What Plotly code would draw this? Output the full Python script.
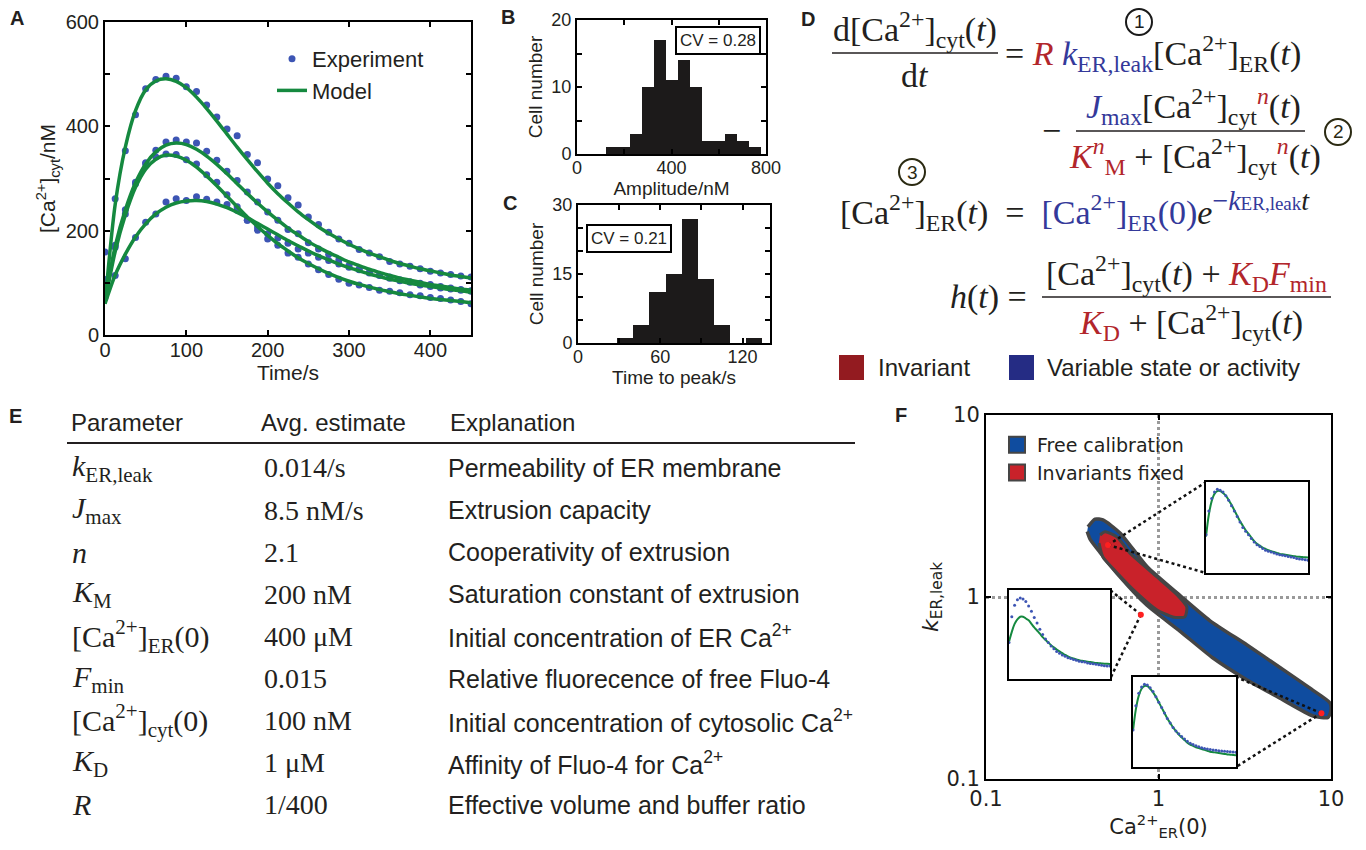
import plotly.graph_objects as go

W, H = 1366, 850
def px(x):
    return x / W
def py(y):
    return 1 - y / H

# ---------------- data ----------------
time_s = [0, 12.5, 25, 37.5, 50, 62.5, 75, 87.5, 100, 112.5, 125, 137.5, 150, 162.5, 175,
          187.5, 200, 212.5, 225, 237.5, 250, 262.5, 275, 287.5, 300, 312.5, 325, 337.5,
          350, 362.5, 375, 387.5, 400, 412.5, 425, 437.5, 450]

exp_cell1 = [159, 261, 353, 422, 472, 490, 496, 492, 476, 467, 441, 418, 395, 382, 346, 330, 299,
             286, 263, 249, 226, 212, 197, 184, 176, 164, 157, 150, 141, 136, 132, 127, 122, 119,
             116, 113, 111]
exp_cell2 = [106, 172, 240, 293, 330, 354, 370, 374, 370, 368, 352, 335, 314, 296, 274, 255, 236,
             220, 202, 194, 177, 165, 155, 144, 133, 127, 120, 114, 109, 104, 101, 96, 93, 90,
             88, 86, 84]
exp_cell3 = [106, 168, 232, 290, 328, 341, 347, 346, 336, 328, 307, 293, 269, 246, 220, 201, 184,
             172, 157, 149, 136, 125, 116, 107, 99, 96, 91, 86, 84, 81, 77, 75, 72, 70, 67, 64, 60]
exp_cell4 = [72, 114, 146, 187, 216, 232, 255, 261, 258, 265, 260, 255, 250, 239, 220, 207, 194,
             186, 176, 165, 157, 149, 143, 136, 130, 125, 119, 115, 111, 106, 102, 99, 97, 93,
             90, 87, 85]

model_cell1 = [60, 250, 360, 430, 470, 487, 491, 486, 474, 456, 434, 410, 385, 360, 336, 313, 291,
               271, 253, 236, 221, 207, 195, 184, 174, 165, 157, 150, 143, 137, 132, 127, 123,
               119, 115, 112, 109]
model_cell2 = [65, 170, 240, 292, 328, 351, 364, 368, 365, 356, 343, 327, 309, 290, 271, 253, 236,
               220, 205, 192, 179, 168, 158, 149, 140, 133, 126, 120, 114, 109, 105, 101, 97, 94,
               91, 88, 86]
model_cell3 = [62, 160, 230, 283, 318, 337, 345, 343, 335, 322, 305, 286, 266, 246, 226, 208, 191,
               175, 161, 148, 137, 127, 118, 110, 103, 97, 92, 87, 83, 79, 76, 73, 70, 68, 66, 64, 62]
model_cell4 = [60, 115, 155, 188, 213, 232, 245, 253, 257, 258, 256, 251, 244, 235, 225, 214, 203,
               192, 181, 171, 161, 152, 144, 136, 129, 123, 117, 112, 107, 103, 99, 96, 93, 90,
               87, 85, 82]

# histogram B (amplitude)
amp_bin_start = 124.6
amp_bin_width = 50.3
amp_counts = [1, 1, 3, 10, 17, 11, 14, 10, 2, 2, 3, 2, 1]
amp_cv = "CV = 0.28"

# histogram C (time to peak)
ttp_bin_start = 28.5
ttp_bin_width = 11.77
ttp_counts = [1, 4, 11, 15, 27, 14, 4, 0, 1]
ttp_cv = "CV = 0.21"

# tick labels
a_x_ticks = [0, 100, 200, 300, 400]
a_y_ticks = [0, 100, 200, 300, 400, 500, 600]
a_y_labels = ["0", "", "200", "", "400", "", "600"]
b_x_ticks = [0, 200, 400, 600, 800]
b_x_labels = ["0", "", "400", "", "800"]
b_y_ticks = [0, 5, 10, 15, 20]
b_y_labels = ["0", "", "10", "", "20"]
c_x_ticks = [0, 30, 60, 90, 120]
c_x_labels = ["0", "", "60", "", "120"]
c_y_ticks = [0, 5, 10, 15, 20, 25, 30]
c_y_labels = ["0", "", "", "15", "", "", "30"]
f_ticks = [0.1, 1, 10]
f_labels = ["0.1", "1", "10"]

# panel F: parameter regions (Ca_ER(0), k_ER,leak)
free_ca = [0.390, 0.429, 0.476, 0.598, 0.857, 1.33, 1.99, 3.26, 5.06, 7.87, 9.86, 10.0, 9.61,
           7.87, 5.06, 3.26, 2.07, 1.33, 0.857, 0.598, 0.458, 0.401, 0.386]
free_k = [2.43, 2.68, 2.65, 2.25, 1.47, 1.02, 0.74, 0.545, 0.41, 0.307, 0.262, 0.239, 0.218,
          0.222, 0.278, 0.350, 0.462, 0.650, 0.90, 1.29, 1.76, 2.08, 2.29]
fixed_ca = [0.458, 0.490, 0.574, 0.684, 0.98, 1.28, 1.46, 1.42, 1.21, 0.98, 0.75, 0.574, 0.476, 0.452]
fixed_k = [2.19, 2.28, 2.14, 1.74, 1.29, 1.03, 0.88, 0.777, 0.777, 0.849, 1.05, 1.36, 1.66, 1.98]
pick_ca = [0.51, 0.79, 8.8]
pick_k = [1.93, 0.80, 0.23]

# insets (normalised signal)
inset1_model = [0.40, 0.64, 0.79, 0.87, 0.90, 0.90, 0.88, 0.85, 0.80, 0.75, 0.69, 0.63, 0.57, 0.52,
                0.47, 0.43, 0.39, 0.35, 0.32, 0.30, 0.28, 0.265, 0.25, 0.24, 0.23, 0.22, 0.21,
                0.205, 0.20, 0.195, 0.19, 0.185, 0.18, 0.178, 0.175, 0.172, 0.17]
inset1_exp = [0.42, 0.68, 0.82, 0.89, 0.92, 0.91, 0.89, 0.85, 0.80, 0.74, 0.68, 0.62, 0.56, 0.50,
              0.46, 0.42, 0.38, 0.34, 0.31, 0.29, 0.27, 0.25, 0.24, 0.23, 0.22, 0.21, 0.20, 0.195,
              0.19, 0.18, 0.175, 0.17, 0.16, 0.155, 0.15, 0.145, 0.14]
inset2_model = [0.42, 0.53, 0.62, 0.67, 0.70, 0.70, 0.68, 0.66, 0.62, 0.58, 0.545, 0.51, 0.47,
                0.44, 0.41, 0.38, 0.355, 0.33, 0.31, 0.29, 0.27, 0.255, 0.24, 0.23, 0.22, 0.21,
                0.205, 0.20, 0.195, 0.19, 0.185, 0.18, 0.178, 0.175, 0.172, 0.17, 0.168]
inset2_exp = [0.41, 0.70, 0.83, 0.89, 0.91, 0.90, 0.87, 0.82, 0.76, 0.69, 0.63, 0.56, 0.50, 0.45,
              0.41, 0.37, 0.34, 0.31, 0.29, 0.27, 0.255, 0.24, 0.23, 0.22, 0.21, 0.20, 0.195,
              0.19, 0.18, 0.175, 0.17, 0.165, 0.16, 0.155, 0.15, 0.147, 0.145]
inset3_model = [0.40, 0.64, 0.79, 0.87, 0.90, 0.90, 0.87, 0.83, 0.78, 0.72, 0.66, 0.60, 0.54, 0.49,
                0.44, 0.40, 0.36, 0.33, 0.30, 0.27, 0.25, 0.235, 0.22, 0.21, 0.20, 0.19, 0.18,
                0.17, 0.165, 0.16, 0.155, 0.15, 0.145, 0.14, 0.137, 0.133, 0.13]
inset3_exp = [0.41, 0.68, 0.82, 0.89, 0.92, 0.91, 0.88, 0.84, 0.78, 0.72, 0.66, 0.60, 0.54, 0.49,
              0.44, 0.40, 0.37, 0.34, 0.31, 0.285, 0.265, 0.25, 0.235, 0.225, 0.215, 0.205, 0.20,
              0.195, 0.19, 0.185, 0.18, 0.177, 0.175, 0.172, 0.17, 0.167, 0.165]

# table E
table_header = ["Parameter", "Avg. estimate", "Explanation"]
table_params = ["<i>k</i><sub>ER,leak</sub>", "<i>J</i><sub>max</sub>", "<i>n</i>",
                "<i>K</i><sub>M</sub>", "[Ca<sup>2+</sup>]<sub>ER</sub>(0)", "<i>F</i><sub>min</sub>",
                "[Ca<sup>2+</sup>]<sub>cyt</sub>(0)", "<i>K</i><sub>D</sub>", "<i>R</i>"]
table_values = ["0.014/s", "8.5 nM/s", "2.1", "200 nM", "400 μM", "0.015", "100 nM", "1 μM", "1/400"]
table_explain = ["Permeability of ER membrane", "Extrusion capacity", "Cooperativity of extrusion",
                 "Saturation constant of extrusion", "Initial concentration of ER Ca<sup>2+</sup>",
                 "Relative fluorecence of free Fluo-4",
                 "Initial concentration of cytosolic Ca<sup>2+</sup>",
                 "Affinity of Fluo-4 for Ca<sup>2+</sup>", "Effective volume and buffer ratio"]

# ---------------- styles ----------------
SANS = "Liberation Sans"
SERIF = "Liberation Serif"
DJ = "DejaVu Sans"
DOT_BLUE = "#3d55b4"
GREEN = "#15893f"
EQ_RED = "#b2262b"
EQ_BLUE = "#34399a"
INK = "#231f20"
BAR = "#1c1a1a"
FREE_BLUE = "#0f4c9f"
FIX_RED = "#c9222a"
EDGE = "#454545"

fig = go.Figure()

# ---------- panel A ----------
exp_sets = [exp_cell1, exp_cell2, exp_cell3, exp_cell4]
mod_sets = [model_cell1, model_cell2, model_cell3, model_cell4]
for i, e in enumerate(exp_sets):
    fig.add_trace(go.Scatter(x=time_s, y=e, mode="markers", name="Experiment",
                             marker=dict(color=DOT_BLUE, size=7), showlegend=(i == 0),
                             legend="legend", xaxis="x", yaxis="y"))
for i, m in enumerate(mod_sets):
    fig.add_trace(go.Scatter(x=time_s, y=m, mode="lines", name="Model",
                             line=dict(color=GREEN, width=3.5, shape="spline", smoothing=0.8),
                             showlegend=(i == 0), legend="legend", xaxis="x", yaxis="y"))

# ---------- panel B ----------
amp_centers = [amp_bin_start + amp_bin_width * (i + 0.5) for i in range(len(amp_counts))]
fig.add_trace(go.Bar(x=amp_centers, y=amp_counts, width=amp_bin_width, marker=dict(color=BAR, line=dict(width=0)),
                     showlegend=False, xaxis="x2", yaxis="y2"))

# ---------- panel C ----------
ttp_centers = [ttp_bin_start + ttp_bin_width * (i + 0.5) for i in range(len(ttp_counts))]
fig.add_trace(go.Bar(x=ttp_centers, y=ttp_counts, width=ttp_bin_width, marker=dict(color=BAR, line=dict(width=0)),
                     showlegend=False, xaxis="x3", yaxis="y3"))

# ---------- panel F ----------
fig.add_trace(go.Scatter(x=free_ca, y=free_k, mode="lines", fill="toself", fillcolor=FREE_BLUE,
                         line=dict(color=EDGE, width=3.5, shape="spline", smoothing=0.6),
                         showlegend=False, xaxis="x4", yaxis="y4", hoverinfo="skip"))
fig.add_trace(go.Scatter(x=fixed_ca, y=fixed_k, mode="lines", fill="toself", fillcolor=FIX_RED,
                         line=dict(color=EDGE, width=3, shape="spline", smoothing=0.6),
                         showlegend=False, xaxis="x4", yaxis="y4", hoverinfo="skip"))
fig.add_trace(go.Scatter(x=[None], y=[None], mode="markers", name="Free calibration",
                         marker=dict(symbol="square", size=16, color=FREE_BLUE, line=dict(color=EDGE, width=2)),
                         legend="legend2", xaxis="x4", yaxis="y4"))
fig.add_trace(go.Scatter(x=[None], y=[None], mode="markers", name="Invariants fixed",
                         marker=dict(symbol="square", size=16, color=FIX_RED, line=dict(color=EDGE, width=2)),
                         legend="legend2", xaxis="x4", yaxis="y4"))

# inset geometry (pixels)
F_X0, F_X1, F_Y0, F_Y1 = 986, 1331, 415, 779
insets = [
    dict(box=(1206, 1308, 482, 573), model=inset1_model, exp=inset1_exp, corners=[(1206, 482), (1206, 573)]),
    dict(box=(1009, 1110, 590, 679), model=inset2_model, exp=inset2_exp, corners=[(1110, 590), (1110, 679)]),
    dict(box=(1133, 1236, 677, 767), model=inset3_model, exp=inset3_exp, corners=[(1236, 677), (1236, 767)]),
]

def f_data(pxx, pyy):
    lx = -1 + 2 * (pxx - F_X0) / (F_X1 - F_X0)
    ly = 1 - 2 * (pyy - F_Y0) / (F_Y1 - F_Y0)
    return 10 ** lx, 10 ** ly

for j, ins in enumerate(insets):
    for c in ins["corners"]:
        cx, cy = f_data(*c)
        fig.add_trace(go.Scatter(x=[pick_ca[j], cx], y=[pick_k[j], cy], mode="lines",
                                 line=dict(color="#111", width=2.5, dash="dot"),
                                 showlegend=False, xaxis="x4", yaxis="y4", hoverinfo="skip"))
fig.add_trace(go.Scatter(x=pick_ca, y=pick_k, mode="markers", marker=dict(color="#ff2020", size=6),
                         showlegend=False, xaxis="x4", yaxis="y4"))

for j, ins in enumerate(insets):
    n = j + 5
    fig.add_trace(go.Scatter(x=time_s, y=ins["model"], mode="lines", line=dict(color=GREEN, width=2, shape="spline"),
                             showlegend=False, xaxis=f"x{n}", yaxis=f"y{n}"))
    fig.add_trace(go.Scatter(x=time_s, y=ins["exp"], mode="markers", marker=dict(color=DOT_BLUE, size=3),
                             showlegend=False, xaxis=f"x{n}", yaxis=f"y{n}"))

# ---------- axes ----------
def ax(domain, anchor, **kw):
    d = dict(domain=domain, anchor=anchor, showline=True, linecolor="black", linewidth=2,
             mirror="ticks", ticks="inside", ticklen=5, tickwidth=1.5, tickcolor="black",
             showgrid=False, zeroline=False, automargin=False)
    d.update(kw)
    return d

tickA = dict(family=SANS, size=20, color=INK)
tickB = dict(family=SANS, size=18, color=INK)
layout = dict(
    width=W, height=H, margin=dict(l=0, r=0, t=0, b=0),
    paper_bgcolor="white", plot_bgcolor="white", font=dict(family=SANS, color=INK),
    bargap=0,
    xaxis=ax([px(105), px(471)], "y", range=[0, 450], tickvals=a_x_ticks, tickfont=tickA, ticklabelstandoff=-4,
             title=dict(text="Time/s", font=dict(family=SANS, size=21), standoff=0)),
    yaxis=ax([py(335), py(22)], "x", range=[0, 600], tickvals=a_y_ticks, ticktext=a_y_labels, tickfont=tickA,
             title=dict(text="[Ca<sup>2+</sup>]<sub>cyt</sub>/nM", font=dict(family=SANS, size=21), standoff=4)),
    xaxis2=ax([px(577), px(766)], "y2", range=[0, 800], tickvals=b_x_ticks, ticktext=b_x_labels, tickfont=tickB,
              ticklabelstandoff=-4,
              title=dict(text="Amplitude/nM", font=dict(family=SANS, size=19), standoff=0)),
    yaxis2=ax([py(154), py(20)], "x2", range=[0, 20], tickvals=b_y_ticks, ticktext=b_y_labels, tickfont=tickB,
              title=dict(text="Cell number", font=dict(family=SANS, size=19), standoff=4)),
    xaxis3=ax([px(578), px(770)], "y3", range=[0, 140], tickvals=c_x_ticks, ticktext=c_x_labels, tickfont=tickB,
              ticklabelstandoff=-4,
              title=dict(text="Time to peak/s", font=dict(family=SANS, size=19), standoff=0)),
    yaxis3=ax([py(343), py(205)], "x3", range=[0, 30], tickvals=c_y_ticks, ticktext=c_y_labels, tickfont=tickB,
              title=dict(text="Cell number", font=dict(family=SANS, size=19), standoff=4)),
    xaxis4=ax([px(F_X0), px(F_X1)], "y4", type="log", range=[-1, 1], tickvals=f_ticks, ticktext=f_labels,
              tickfont=dict(family=DJ, size=21, color=INK), showgrid=True, gridcolor="#9a9a9a",
              griddash="dot", gridwidth=2.5,
              title=dict(text="Ca<sup>2+</sup><sub>ER</sub>(0)", font=dict(family=DJ, size=21), standoff=0)),
    yaxis4=ax([py(F_Y1), py(F_Y0)], "x4", type="log", range=[-1, 1], tickvals=f_ticks, ticktext=f_labels,
              tickfont=dict(family=DJ, size=21, color=INK), showgrid=True, gridcolor="#9a9a9a",
              griddash="dot", gridwidth=2.5,
              title=dict(text="<i>k</i><sub>ER,leak</sub>", font=dict(family=DJ, size=22), standoff=2)),
    legend=dict(x=px(272), y=py(38), xanchor="left", yanchor="top", bgcolor="rgba(0,0,0,0)",
                font=dict(family=SANS, size=22, color=INK), tracegroupgap=0),
    legend2=dict(x=px(997), y=py(426), xanchor="left", yanchor="top", bgcolor="rgba(0,0,0,0)",
                 font=dict(family=DJ, size=19, color=INK), tracegroupgap=0),
)
for j, ins in enumerate(insets):
    n = j + 5
    x0, x1, y0, y1 = ins["box"]
    layout[f"xaxis{n}"] = dict(domain=[px(x0), px(x1)], anchor=f"y{n}", range=[0, 450], showline=True,
                               linecolor="black", linewidth=2, mirror=True, ticks="", showticklabels=False,
                               showgrid=False, zeroline=False)
    layout[f"yaxis{n}"] = dict(domain=[py(y1), py(y0)], anchor=f"x{n}", range=[0, 1], showline=True,
                               linecolor="black", linewidth=2, mirror=True, ticks="", showticklabels=False,
                               showgrid=False, zeroline=False)
fig.update_layout(**layout)

# ---------- annotations & shapes ----------
anns = []
shapes = []

def A(text, x, y, size, family=SANS, color=INK, xa="center", ya="middle", **kw):
    anns.append(dict(text=text, x=px(x), y=py(y), xref="paper", yref="paper", showarrow=False,
                     xanchor=xa, yanchor=ya, font=dict(family=family, size=size, color=color), **kw))

def hline(x0, x1, y, w=1.6, color=INK):
    shapes.append(dict(type="line", xref="paper", yref="paper", x0=px(x0), x1=px(x1), y0=py(y), y1=py(y),
                       line=dict(color=color, width=w)))

# panel letters
for lab, x, y in [("A", 17, 18), ("B", 508, 17), ("C", 510, 203), ("D", 808, 19), ("E", 15, 416), ("F", 901, 415)]:
    A(f"<b>{lab}</b>", x, y, 20)

# CV boxes
A(amp_cv, 718, 41, 17, bordercolor="black", borderwidth=2, borderpad=3)
A(ttp_cv, 629, 238, 17, bordercolor="black", borderwidth=2, borderpad=3)

# panel D equations
R_ = lambda s: f"<span style='color:{EQ_RED}'>{s}</span>"
B_ = lambda s: f"<span style='color:{EQ_BLUE}'>{s}</span>"
CA = "[Ca<sup>2+</sup>]"
EQ = 34

A(f"d{CA}<sub>cyt</sub>(<i>t</i>)", 915, 30, EQ, SERIF)
hline(832, 998, 53)
A("d<i>t</i>", 915, 75, EQ, SERIF)
A(f"= {R_('<i>R</i>')} {B_('<i>k</i><sub>ER,leak</sub>')}{CA}<sub>ER</sub>(<i>t</i>)", 1003, 53, EQ, SERIF, xa="left")

A("−", 1051, 131, EQ, SERIF)
A(f"{B_('<i>J</i><sub>max</sub>')}{CA}<sub>cyt</sub><sup>{R_('<i>n</i>')}</sup>(<i>t</i>)", 1193, 107, EQ, SERIF)
hline(1076, 1305, 131)
A(f"{R_('<i>K</i><sup><i>n</i></sup><sub>M</sub>')} + {CA}<sub>cyt</sub><sup>{R_('<i>n</i>')}</sup>(<i>t</i>)", 1195, 156, EQ, SERIF)

EXP = ("<span style='font-size:28px'>" + B_("−<i>k</i>") + "</span>"
       "<span style='font-size:19px'>" + B_("ER,leak") + "</span>"
       "<span style='font-size:28px'><i>t</i></span>")
A(f"{CA}<sub>ER</sub>(<i>t</i>) &nbsp;=&nbsp; {B_(CA + '<sub>ER</sub>(0)')}<i>e</i><sup>{EXP}</sup>",
  838, 210, EQ, SERIF, xa="left")

A("<i>h</i>(<i>t</i>) =", 1029, 297, EQ, SERIF, xa="right")
A(f"{CA}<sub>cyt</sub>(<i>t</i>) + {R_('<i>K</i><sub>D</sub><i>F</i><sub>min</sub>')}", 1186, 274, EQ, SERIF)
hline(1042, 1331, 297)
A(f"{R_('<i>K</i><sub>D</sub>')} + {CA}<sub>cyt</sub>(<i>t</i>)", 1191, 322, EQ, SERIF)

# circled numbers
for num, cx, cy, col in [("1", 1139, 22, "#1a1a1a"), ("2", 1338, 132, "#2b2a12"), ("3", 912, 172, "#2b2a12")]:
    shapes.append(dict(type="circle", xref="paper", yref="paper", x0=px(cx - 13), x1=px(cx + 13),
                       y0=py(cy + 13), y1=py(cy - 13), line=dict(color=col, width=2)))
    A(num, cx, cy, 19, SANS, col)

# D legend
for (x0, col, label, tx) in [(839, "#931b20", "Invariant", 876), (1009, "#252c84", "Variable state or activity", 1045)]:
    shapes.append(dict(type="rect", xref="paper", yref="paper", x0=px(x0), x1=px(x0 + 25), y0=py(380), y1=py(355),
                       fillcolor=col, line=dict(width=0)))
    A(label, tx, 368, 24, SANS, INK, xa="left")

# table E
A(table_header[0], 69, 423, 24, SANS, INK, xa="left")
A(table_header[1], 259, 423, 24, SANS, INK, xa="left")
A(table_header[2], 448, 423, 24, SANS, INK, xa="left")
hline(67, 855, 443, w=2.2)
for i in range(len(table_params)):
    yy = 468 + i * 42.1
    A(table_params[i], 70, yy, 30, SERIF, INK, xa="left")
    A(table_values[i], 262, yy, 28, SERIF, INK, xa="left")
    A(table_explain[i], 446, yy, 25, SANS, INK, xa="left")

fig.update_layout(annotations=anns, shapes=shapes)

fig.write_html("out.html", config={"displayModeBar": False},
               post_script="document.body.style.margin='0';")
